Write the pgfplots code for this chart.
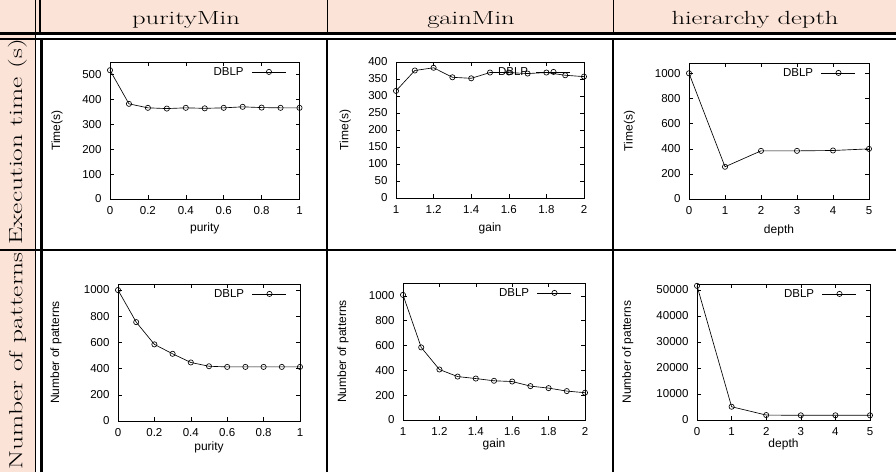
\documentclass[border=0pt]{standalone}
\usepackage{fontspec}
\usepackage{graphicx}
\usepackage{pgfplots}
\pgfplotsset{compat=1.18}
\newfontfamily\plotfont{Liberation Sans}
\definecolor{hdr}{RGB}{251,227,215}

% gnuplot-like look for the six small panels
\pgfplotsset{
  gp/.style={
    scale only axis, anchor=south west, clip=false,
    axis line style={line width=0.7pt},
    tick align=inside, tick style={black, line width=0.6pt}, major tick length=4pt,
    font=\plotfont\fontsize{11.5}{13}\selectfont,
    label style={font=\plotfont\fontsize{12}{14}\selectfont},
    /pgf/number format/assume math mode=true,
    /pgf/number format/1000 sep={},
    scaled ticks=false,
    yticklabel style={xshift=-5pt},
    xticklabel style={yshift=-4pt},
    legend style={at={(1,1)}, anchor=north east, xshift=-12pt, yshift=-2pt,
      draw=none, fill=none, inner sep=1pt},
    legend plot pos=right,
    legend image code/.code={%
      \path (0pt,0pt);
      \draw[mark repeat=2, mark phase=2] plot coordinates {(6pt,0pt) (23pt,0pt) (40pt,0pt)};},
  },
  dblp/.style={black, line width=0.65pt, mark=o, mark size=2.6pt,
    mark options={solid, line width=0.65pt}},
  xl/.style={xlabel style={at={(axis description cs:0.5,0)}, anchor=center, yshift=-#1}},
  yl/.style={ylabel style={at={(axis description cs:#1,0.5)}, anchor=center}},
}

\newcommand{\hd}[1]{\fontsize{19}{21}\selectfont\scalebox{1.4}[1]{#1}}
\newcommand{\rl}[1]{\fontsize{19}{21}\selectfont\scalebox{1.45}[1]{#1}}

\begin{document}
\begin{tikzpicture}[x=1pt,y=1pt]
\useasboundingbox (0,0) rectangle (896,472);

% table backgrounds and rules
\fill[hdr] (0,439) rectangle (896,472);
\fill[hdr] (0,0) rectangle (35,472);
\draw[line width=3pt] (0,438.3) -- (896,438.3);
\draw[line width=1.7pt] (0,432.7) -- (896,432.7);
\draw[line width=2pt] (0,222) -- (896,222);
\draw[line width=1.2pt] (35.8,0) -- (35.8,472);
\draw[line width=1.5pt] (40,472) -- (40,437);
\draw[line width=3.5pt] (41.3,0) -- (41.3,434);
\draw[line width=1pt] (327,472) -- (327,439);
\draw[line width=2pt] (327,0) -- (327,432);
\draw[line width=1pt] (613,472) -- (613,439);
\draw[line width=2pt] (613,0) -- (613,432);

% headers
\node[anchor=base] at (186,447) {\hd{purityMin}};
\node[anchor=base] at (471,447) {\hd{gainMin}};
\node[anchor=base] at (755,447) {\hd{hierarchy depth}};
\node at (17.5,330) {\rotatebox{90}{\rl{Execution time (s)}}};
\node at (17.5,111) {\rotatebox{90}{\rl{Number of patterns}}};

% row 1: execution time
\begin{axis}[gp, at={(110pt,273pt)}, width=189.5pt, height=137pt,
  xmin=0, xmax=1, ymin=0, ymax=550,
  xtick={0,0.2,0.4,0.6,0.8,1}, ytick={0,100,200,300,400,500},
  xlabel={purity}, ylabel={Time(s)}, xl=29pt, yl=-0.28]
\addplot[dblp] coordinates {(0,517) (0.1,382) (0.2,366) (0.3,363) (0.4,366) (0.5,364)
  (0.6,366) (0.7,370) (0.8,367) (0.9,366) (1,366)};
\addlegendentry{DBLP}
\end{axis}

\begin{axis}[gp, at={(396pt,274pt)}, width=188pt, height=136pt,
  xmin=1, xmax=2, ymin=0, ymax=400,
  xtick={1,1.2,1.4,1.6,1.8,2}, ytick={0,50,100,150,200,250,300,350,400},
  xlabel={gain}, ylabel={Time(s)}, xl=30pt, yl=-0.27]
\addplot[dblp] coordinates {(1,315) (1.1,375) (1.2,383) (1.3,355) (1.4,352) (1.5,369)
  (1.6,369) (1.7,366) (1.8,369) (1.9,361) (2,357)};
\addlegendentry{DBLP}
\end{axis}

\begin{axis}[gp, at={(689pt,273pt)}, width=180pt, height=136pt,
  xmin=0, xmax=5, ymin=0, ymax=1085,
  xtick={0,1,2,3,4,5}, ytick={0,200,400,600,800,1000},
  xlabel={depth}, ylabel={Time(s)}, xl=31pt, yl=-0.33]
\addplot[dblp] coordinates {(0,1003) (1,257) (2,384) (3,384) (4,387) (5,400)};
\addlegendentry{DBLP}
\end{axis}

% row 2: number of patterns
\begin{axis}[gp, at={(118pt,51pt)}, width=182pt, height=137pt,
  xmin=0, xmax=1, ymin=0, ymax=1046,
  xtick={0,0.2,0.4,0.6,0.8,1}, ytick={0,200,400,600,800,1000},
  xlabel={purity}, ylabel={Number of patterns}, xl=26pt, yl=-0.34]
\addplot[dblp] coordinates {(0,1000) (0.1,755) (0.2,585) (0.3,513) (0.4,447) (0.5,418)
  (0.6,413) (0.7,413) (0.8,413) (0.9,413) (1,413)};
\addlegendentry{DBLP}
\end{axis}

\begin{axis}[gp, at={(403pt,52pt)}, width=182pt, height=137pt,
  xmin=1, xmax=2, ymin=0, ymax=1104,
  xtick={1,1.2,1.4,1.6,1.8,2}, ytick={0,200,400,600,800,1000},
  xlabel={gain}, ylabel={Number of patterns}, xl=24pt, yl=-0.33]
\addplot[dblp] coordinates {(1,1008) (1.1,585) (1.2,407) (1.3,350) (1.4,334) (1.5,316)
  (1.6,310) (1.7,273) (1.8,257) (1.9,233) (2,220)};
\addlegendentry{DBLP}
\end{axis}

\begin{axis}[gp, at={(697pt,52pt)}, width=173pt, height=136pt,
  xmin=0, xmax=5, ymin=0, ymax=52300,
  xtick={0,1,2,3,4,5}, ytick={0,10000,20000,30000,40000,50000},
  xlabel={depth}, ylabel={Number of patterns}, xl=24pt, yl=-0.40]
\addplot[dblp] coordinates {(0,51600) (1,5100) (2,1900) (3,1800) (4,1800) (5,1800)};
\addlegendentry{DBLP}
\end{axis}
\end{tikzpicture}
\end{document}
